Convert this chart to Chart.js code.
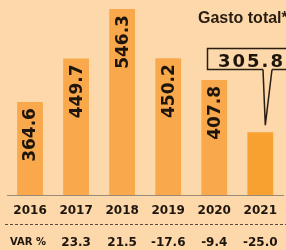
<!DOCTYPE html>
<html>
<head>
<meta charset="utf-8">
<script src="https://cdn.jsdelivr.net/npm/chart.js@4/dist/chart.umd.min.js"></script>
<style>
  html, body { margin: 0; padding: 0; background: #FDD8AA; }
  #wrap { width: 286px; height: 250px; position: relative; }
</style>
</head>
<body>
<div id="wrap"><canvas id="c" width="286" height="250"></canvas></div>
<script>
const years = ['2016', '2017', '2018', '2019', '2020', '2021'];
const gasto = [364.6, 449.7, 546.3, 450.2, 407.8, 305.8];
const varPct = ['', '23.3', '21.5', '-17.6', '-9.4', '-25.0'];
const varLabel = 'VAR %';
const title = 'Gasto total*';
const highlightLabel = '305.8';

const barColor = '#F9A94C';
const lastBarColor = '#F8A030';
const textColor = '#1E150D';

const overlay = {
  id: 'overlay',
  afterDatasetsDraw(chart) {
    const ctx = chart.ctx;
    const meta = chart.getDatasetMeta(0);
    const xs = chart.scales.x;
    ctx.save();
    // rotated value labels
    ctx.fillStyle = textColor;
    ctx.font = 'bold 17px "DejaVu Sans"';
    ctx.textAlign = 'right';
    ctx.textBaseline = 'middle';
    meta.data.forEach((bar, i) => {
      if (i === meta.data.length - 1) return;
      ctx.save();
      ctx.translate(bar.x, bar.y + 6);
      ctx.rotate(-Math.PI / 2);
      ctx.fillText(gasto[i].toFixed(1), 0, 1);
      ctx.restore();
    });
    // callout
    const last = meta.data[meta.data.length - 1];
    const boxL = 207.5, boxT = 48.5, boxB = 69.5;
    ctx.strokeStyle = '#2a1d12';
    ctx.lineWidth = 1.5;
    ctx.fillStyle = '#FDD8AA';
    ctx.beginPath();
    ctx.moveTo(263, boxB);
    ctx.lineTo(boxL, boxB);
    ctx.lineTo(boxL, boxT);
    ctx.lineTo(300, boxT);
    ctx.moveTo(272, boxB);
    ctx.lineTo(300, boxB);
    ctx.stroke();
    ctx.beginPath();
    ctx.moveTo(263, boxB);
    ctx.lineTo(last.x + 5, last.y - 7);
    ctx.lineTo(272, boxB);
    ctx.stroke();
    ctx.fillStyle = textColor;
    ctx.font = 'bold 18px "DejaVu Sans"';
    ctx.letterSpacing = '2px';
    ctx.textAlign = 'left';
    ctx.textBaseline = 'alphabetic';
    ctx.fillText(highlightLabel, 218, 67);
    ctx.letterSpacing = '0px';
    // title
    ctx.font = 'bold 16px "Liberation Sans"';
    ctx.fillStyle = '#2a1d12';
    ctx.fillText(title, 198, 23);
    // dashed separator
    ctx.strokeStyle = '#5a4c40';
    ctx.lineWidth = 1;
    ctx.setLineDash([3, 2]);
    ctx.beginPath();
    ctx.moveTo(5, 224.5);
    ctx.lineTo(286, 224.5);
    ctx.stroke();
    ctx.setLineDash([]);
    // VAR row
    ctx.fillStyle = textColor;
    ctx.textBaseline = 'alphabetic';
    ctx.font = 'bold 10px "DejaVu Sans"';
    ctx.textAlign = 'left';
    ctx.fillText(varLabel, 10, 245);
    ctx.font = 'bold 12px "DejaVu Sans"';
    ctx.textAlign = 'center';
    varPct.forEach((v, i) => {
      if (!v) return;
      ctx.fillText(v, xs.getPixelForValue(i), 246);
    });
    ctx.restore();
  }
};

new Chart(document.getElementById('c'), {
  type: 'bar',
  data: {
    labels: years,
    datasets: [{
      data: gasto,
      backgroundColor: gasto.map((v, i) => i === gasto.length - 1 ? lastBarColor : barColor),
      borderWidth: 0,
      barPercentage: 0.56,
      categoryPercentage: 1
    }]
  },
  options: {
    responsive: false,
    animation: false,
    devicePixelRatio: 1,
    layout: { padding: { left: 7, right: 0, top: 0, bottom: 0 } },
    plugins: { legend: { display: false }, tooltip: { enabled: false } },
    scales: {
      x: {
        grid: { display: false, drawTicks: false },
        border: { display: true, color: '#9a8a78', width: 1 },
        ticks: { color: textColor, font: { family: 'DejaVu Sans', weight: 'bold', size: 12 }, padding: 9, maxRotation: 0, autoSkip: false },
        afterFit(s) { s.height = 55; }
      },
      y: {
        display: false,
        min: 183,
        max: 564
      }
    }
  },
  plugins: [overlay]
});
</script>
</body>
</html>
